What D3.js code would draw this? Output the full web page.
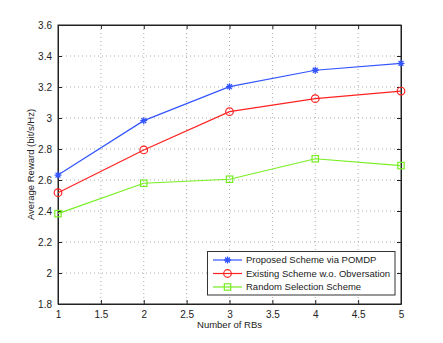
<!DOCTYPE html>
<html>
<head>
<meta charset="utf-8">
<script src="https://cdn.jsdelivr.net/npm/d3@7"></script>
<style>
  body { margin: 0; background: #fff; }
  svg text { font-family: "Liberation Sans", Arial, sans-serif; }
</style>
</head>
<body>
<svg id="chart" width="443" height="343"></svg>
<script>
// Data
const rbs = [1, 2, 3, 4, 5];
const proposed = [2.632, 2.983, 3.202, 3.308, 3.353];
const existing = [2.518, 2.794, 3.041, 3.125, 3.174];
const random = [2.383, 2.579, 2.605, 2.737, 2.693];
const xTicks = [1, 1.5, 2, 2.5, 3, 3.5, 4, 4.5, 5];
const yTicks = [1.8, 2, 2.2, 2.4, 2.6, 2.8, 3, 3.2, 3.4, 3.6];

const series = [
  {name: 'Proposed Scheme via POMDP', values: proposed, color: '#3355ff', marker: 'star'},
  {name: 'Existing Scheme w.o. Obversation', values: existing, color: '#ff2222', marker: 'circle'},
  {name: 'Random Selection Scheme', values: random, color: '#77ee22', marker: 'square'}
];

const m = {left: 58, top: 25, right: 401, bottom: 304};
const fs = 9.5;
const svg = d3.select('#chart');

const x = d3.scaleLinear().domain([1, 5]).range([m.left, m.right]);
const y = d3.scaleLinear().domain([1.8, 3.6]).range([m.bottom, m.top]);

// Dotted grid
const grid = svg.append('g').attr('stroke', '#999').attr('stroke-width', 0.8)
  .attr('stroke-dasharray', '1,3');
grid.selectAll('.gx').data(xTicks.slice(1, -1)).enter().append('line')
  .attr('x1', d => x(d)).attr('x2', d => x(d))
  .attr('y1', m.top).attr('y2', m.bottom);
grid.selectAll('.gy').data(yTicks.slice(1, -1)).enter().append('line')
  .attr('x1', m.left).attr('x2', m.right)
  .attr('y1', d => y(d)).attr('y2', d => y(d));

// Axes with inward ticks (matlab style)
const fmt = d => String(+d.toFixed(1));
const axes = svg.append('g').attr('font-size', fs);
axes.append('g').attr('transform', `translate(0,${m.bottom})`)
  .call(d3.axisBottom(x).tickValues(xTicks).tickSizeInner(-4).tickSizeOuter(0).tickPadding(7).tickFormat(fmt));
axes.append('g').attr('transform', `translate(0,${m.top})`)
  .call(d3.axisTop(x).tickValues(xTicks).tickSizeInner(-4).tickSizeOuter(0).tickFormat(''));
axes.append('g').attr('transform', `translate(${m.left},0)`)
  .call(d3.axisLeft(y).tickValues(yTicks).tickSizeInner(-4).tickSizeOuter(0).tickPadding(6).tickFormat(fmt));
axes.append('g').attr('transform', `translate(${m.right},0)`)
  .call(d3.axisRight(y).tickValues(yTicks).tickSizeInner(-4).tickSizeOuter(0).tickFormat(''));
axes.selectAll('.domain').attr('stroke', '#222');
axes.selectAll('.tick line').attr('stroke', '#222');
axes.selectAll('text').attr('fill', '#222').attr('font-family', '"Liberation Sans", Arial, sans-serif');

svg.append('rect')
  .attr('x', m.left).attr('y', m.top)
  .attr('width', m.right - m.left).attr('height', m.bottom - m.top)
  .attr('fill', 'none').attr('stroke', '#222').attr('stroke-width', 1);

function drawMarker(g, kind, cx, cy, color) {
  if (kind === 'circle') {
    g.append('circle').attr('cx', cx).attr('cy', cy).attr('r', 3.8)
      .attr('fill', 'none').attr('stroke', color).attr('stroke-width', 1.2);
  } else if (kind === 'square') {
    g.append('rect').attr('x', cx - 3.2).attr('y', cy - 3.2).attr('width', 6.4).attr('height', 6.4)
      .attr('fill', 'none').attr('stroke', color).attr('stroke-width', 1.2);
  } else {
    const s = 3.5;
    const p = `M${cx - s},${cy}L${cx + s},${cy}M${cx},${cy - s}L${cx},${cy + s}` +
      `M${cx - s * 0.7},${cy - s * 0.7}L${cx + s * 0.7},${cy + s * 0.7}` +
      `M${cx - s * 0.7},${cy + s * 0.7}L${cx + s * 0.7},${cy - s * 0.7}`;
    g.append('path').attr('d', p).attr('stroke', color).attr('stroke-width', 1.3);
  }
}

const line = d3.line().x((d, i) => x(rbs[i])).y(d => y(d));
series.forEach(s => {
  const g = svg.append('g');
  g.append('path').datum(s.values).attr('d', line)
    .attr('fill', 'none').attr('stroke', s.color).attr('stroke-width', 1.2);
  s.values.forEach((v, i) => drawMarker(g, s.marker, x(rbs[i]), y(v), s.color));
});

// Legend
const lg = svg.append('g');
lg.append('rect').attr('x', 207.5).attr('y', 251.5).attr('width', 187.5).attr('height', 43.5)
  .attr('fill', '#fff').attr('stroke', '#333').attr('stroke-width', 1);
series.forEach((s, i) => {
  const ly = 260 + i * 13.5;
  lg.append('line').attr('x1', 213).attr('x2', 242).attr('y1', ly).attr('y2', ly)
    .attr('stroke', s.color).attr('stroke-width', 1.2);
  drawMarker(lg, s.marker, 227.5, ly, s.color);
  lg.append('text').attr('x', 246).attr('y', ly + 3.4).attr('font-size', fs).attr('fill', '#222')
    .text(s.name);
});

// Axis labels
svg.append('text').attr('x', (m.left + m.right) / 2).attr('y', 328)
  .attr('text-anchor', 'middle').attr('font-size', fs).attr('fill', '#222').text('Number of RBs');
svg.append('text').attr('transform', `translate(34,${(m.top + m.bottom) / 2}) rotate(-90)`)
  .attr('text-anchor', 'middle').attr('font-size', fs).attr('fill', '#222').text('Average Reward (bit/s/Hz)');
</script>
</body>
</html>
